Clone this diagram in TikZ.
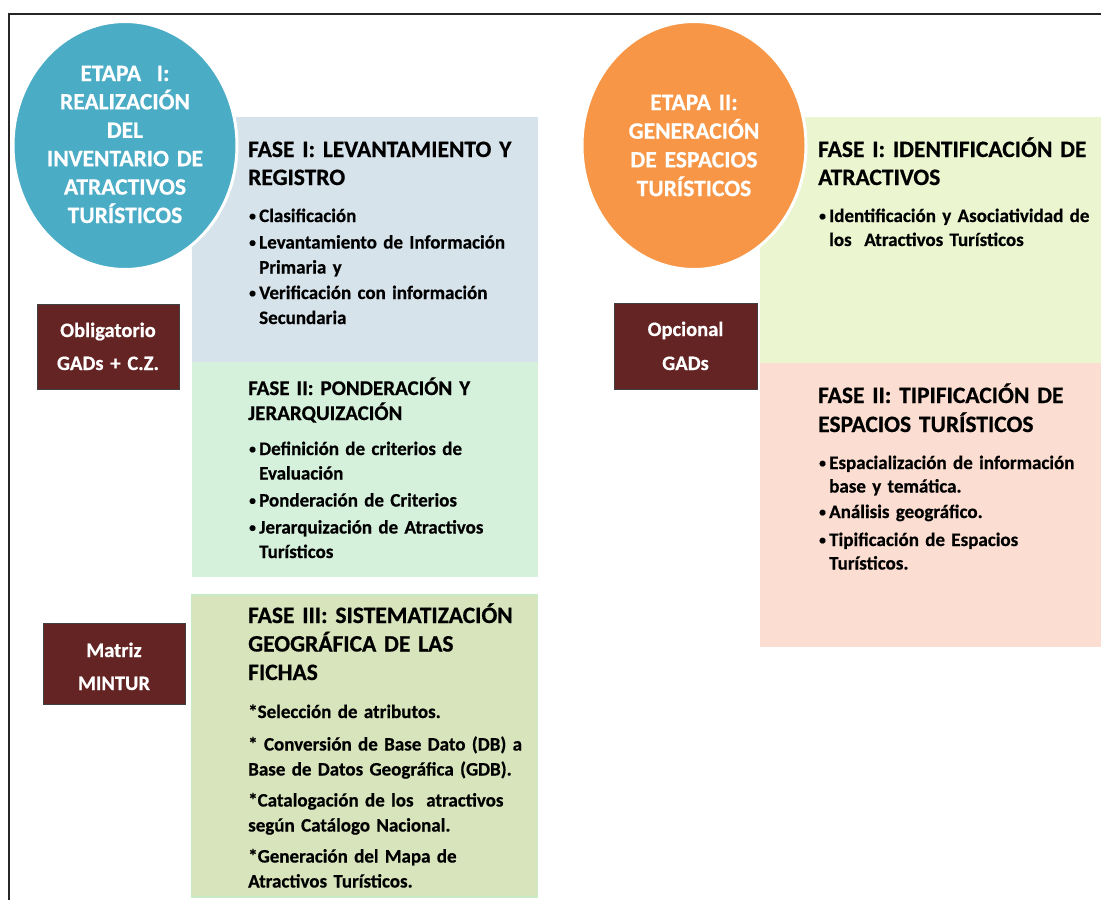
\documentclass[tikz,border=0pt]{standalone}
\usepackage{fontspec}
\setmainfont{Carlito}[WordSpace=0.85,BoldFeatures={FakeBold=0.6}]
\usetikzlibrary{shapes.geometric}
\definecolor{etapaA}{RGB}{75,172,198}
\definecolor{etapaB}{RGB}{247,150,70}
\definecolor{faseA}{RGB}{214,227,235}
\definecolor{faseB}{RGB}{213,240,219}
\definecolor{faseC}{RGB}{216,228,188}
\definecolor{faseCb}{RGB}{200,234,196}
\definecolor{faseD}{RGB}{235,246,209}
\definecolor{faseE}{RGB}{251,222,209}
\definecolor{tagred}{RGB}{99,36,35}
\newcommand{\bl}{\makebox[11pt][l]{\hspace{1pt}\raisebox{1.6pt}{\fontsize{13.5}{13.5}\selectfont •}}}
\newcommand{\ind}{\hspace*{11pt}}
\begin{document}
\begin{tikzpicture}[x=1pt,y=-1pt,
  panel/.style={rectangle, draw=none, inner sep=0pt, outer sep=0pt, anchor=north west},
  etapa/.style={ellipse, draw=white, line width=3pt, inner sep=0pt, minimum width=224pt, minimum height=248pt},
  tag/.style={rectangle, fill=tagred, draw=black!75, line width=1pt, inner sep=0pt, minimum width=142pt},
  heading/.style={anchor=base west, inner sep=0pt, text width=330pt, align=left, font=\bfseries\fontsize{23.5}{28.5}\selectfont},
  items/.style={anchor=base west, inner sep=0pt, text width=330pt, align=left, font=\bfseries\fontsize{19}{25}\selectfont},
  ctext/.style={anchor=base, inner sep=0pt, text width=230pt, align=center, text=white, font=\bfseries\fontsize{23.5}{28.5}\selectfont},
  tagtext/.style={anchor=base, inner sep=0pt, text width=140pt, align=center, text=white, font=\bfseries\fontsize{20.5}{33}\selectfont},
]
\useasboundingbox (0,0) rectangle (1101,900);

% phase panels
\node[panel, fill=faseA, minimum width=346pt, minimum height=245pt] (p1) at (191.5,117) {};
\node[panel, fill=faseB, minimum width=346pt, minimum height=215pt] (p2) at (191.5,362) {};
\node[panel, fill=faseC, draw=faseCb, line width=1.5pt, minimum width=346pt, minimum height=302pt] (p3) at (191.5,595) {};
\node[panel, fill=faseD, minimum width=341pt, minimum height=246pt] (p4) at (760,117) {};
\node[panel, fill=faseE, minimum width=341pt, minimum height=284pt] (p5) at (760,363) {};

% tags
\node[tag, minimum height=85pt] (g1) at (108,346.5) {};
\node[tag, minimum height=81pt] (g2) at (114,663.5) {};
\node[tag, minimum height=86pt, minimum width=143pt] (g3) at (685.5,346) {};

% stages
\node[etapa, fill=etapaA] (e1) at (125,145.5) {};
\node[etapa, fill=etapaB] (e2) at (694,145.5) {};

% stage texts
\node[ctext, font=\bfseries\fontsize{23.5}{28.4}\selectfont] (e1t) at (125,81)
  {ETAPA\ \ I:\\REALIZACIÓN\\DEL\\INVENTARIO DE\\ATRACTIVOS\\TURÍSTICOS};
\node[ctext, font=\bfseries\fontsize{23.5}{28.7}\selectfont] (e2t) at (694,110)
  {ETAPA II:\\GENERACIÓN\\DE ESPACIOS\\TURÍSTICOS};

% tag texts
\node[tagtext] (g1t) at (108,337) {Obligatorio\\GADs + C.Z.};
\node[tagtext] (g2t) at (114,657) {Matriz\\MINTUR};
\node[tagtext, font=\bfseries\fontsize{20.5}{34}\selectfont] (g3t) at (685.5,336) {Opcional\\GADs};

% left column
\node[heading, font=\bfseries\fontsize{23.5}{28}\selectfont] (h1) at (248,157) {FASE I: LEVANTAMIENTO Y\\REGISTRO};
\node[items] (l1) at (248,222)
  {\bl Clasificación\\[1.5pt]
   \bl Levantamiento de Información\\
   \ind Primaria y\\[0.5pt]
   \bl Verificación con información\\
   \ind Secundaria};

\node[heading, font=\bfseries\fontsize{21}{25}\selectfont] (h2) at (248,395) {FASE II: PONDERACIÓN Y\\JERARQUIZACIÓN};
\node[items, font=\bfseries\fontsize{19}{24.5}\selectfont] (l2) at (248,455)
  {\bl Definición de criterios de\\
   \ind Evaluación\\[2.5pt]
   \bl Ponderación de Criterios\\[2.5pt]
   \bl Jerarquización de Atractivos\\
   \ind Turísticos};

\node[heading] (h3) at (248,623) {FASE III: SISTEMATIZACIÓN\\GEOGRÁFICA DE LAS\\FICHAS};
\node[items] (l3) at (248,718)
  {*Selección de atributos.\\[7.5pt]
   * Conversión de Base Dato (DB) a\\
   Base de Datos Geográfica (GDB).\\[6pt]
   *Catalogación de los\ \ atractivos\\
   según Catálogo Nacional.\\[6pt]
   *Generación del Mapa de\\
   Atractivos Turísticos.};

% right column
\node[heading, font=\bfseries\fontsize{23.5}{28}\selectfont] (h4) at (818,157) {FASE I: IDENTIFICACIÓN DE\\ATRACTIVOS};
\node[items, font=\bfseries\fontsize{19}{24}\selectfont] (l4) at (818,222)
  {\bl Identificación y Asociatividad de\\
   \ind los\ \ Atractivos Turísticos};

\node[heading, font=\bfseries\fontsize{23.5}{29}\selectfont] (h5) at (818,403) {FASE II: TIPIFICACIÓN DE\\ESPACIOS TURÍSTICOS};
\node[items, font=\bfseries\fontsize{19}{23.5}\selectfont] (l5) at (818,469)
  {\bl Espacialización de información\\
   \ind base y temática.\\[2pt]
   \bl Análisis geográfico.\\[4.5pt]
   \bl Tipificación de Espacios\\
   \ind Turísticos.};

% frame
\draw[line width=2pt, black!85] (9,900) -- (9,14) -- (1101,14);
\end{tikzpicture}
\end{document}
